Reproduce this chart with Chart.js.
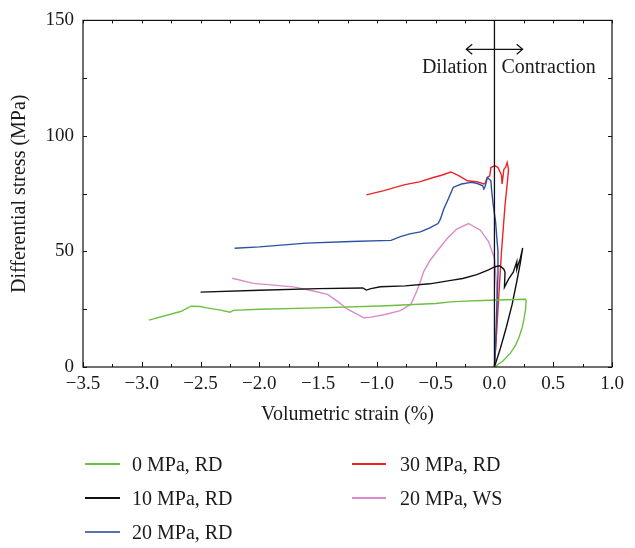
<!DOCTYPE html>
<html>
<head>
<meta charset="utf-8">
<script src="https://cdn.jsdelivr.net/npm/chart.js@4/dist/chart.umd.min.js"></script>
<style>
  html, body { margin: 0; padding: 0; background: #fff; }
  #wrap { position: relative; width: 635px; height: 548px; }
  #legend { position: absolute; left: 0; top: 0; width: 635px; height: 548px; pointer-events: none;
    font-family: "Liberation Serif", "DejaVu Serif", serif; font-size: 20px; color: #1a1a1a; }
  .item { position: absolute; display: flex; align-items: center; }
  .swatch { display: inline-block; width: 35px; height: 2px; margin-right: 12px; }
</style>
</head>
<body>
<div id="wrap">
  <canvas id="c" width="635" height="548"></canvas>
  <div id="legend"></div>
</div>
<script>
// series: [volumetric strain %, differential stress MPa]
const LABELS = ['0 MPa, RD', '10 MPa, RD', '20 MPa, RD', '30 MPa, RD', '20 MPa, WS'];
const COLORS = ['#6cc040', '#111111', '#2f4fa2', '#ee2424', '#d98bcb'];

const s0 = [[0, 0], [0.07, 2.5], [0.136, 6], [0.18, 9.5], [0.21, 13], [0.235, 17], [0.25, 20.5], [0.265, 25], [0.27, 28.5],
  [0.265, 29.3], [0.1, 29.1], [-0.1, 28.8], [-0.3, 28.4], [-0.37, 28.2], [-0.5, 27.5], [-0.97, 26.4], [-1.5, 25.6],
  [-2.0, 25.0], [-2.22, 24.5], [-2.25, 23.7], [-2.33, 24.6], [-2.45, 25.6], [-2.5, 26.2], [-2.58, 26.3], [-2.67, 24.0],
  [-2.94, 20.3]];

const s10 = [[0, 0], [0.05, 8], [0.1, 17], [0.15, 27], [0.19, 37], [0.22, 45], [0.24, 51.5], [0.22, 47], [0.2, 44],
  [0.19, 42.3], [0.19, 45.5], [0.16, 41], [0.12, 38], [0.085, 34.5], [0.09, 41], [0.08, 42.3], [0.06, 43.2], [0.04, 43.8],
  [0.0, 43.3], [-0.05, 42], [-0.15, 40], [-0.27, 38.3], [-0.37, 37.5], [-0.55, 36], [-0.76, 35.1], [-0.97, 34.7],
  [-1.05, 33.9], [-1.09, 33.3], [-1.12, 34.2], [-1.5, 33.9], [-2.0, 33.2], [-2.5, 32.4]];

const s20 = [[0, 0], [0.01, 10], [0.02, 25.8], [0.03, 40], [0.03, 50], [0.02, 56], [0.01, 62.8], [-0.01, 70], [-0.025, 77],
  [-0.03, 80.6], [-0.06, 82], [-0.08, 78], [-0.09, 77], [-0.1, 78.4], [-0.15, 79.5], [-0.2, 79.9], [-0.28, 79.2],
  [-0.32, 78.4], [-0.35, 77.8], [-0.39, 73], [-0.43, 68.5], [-0.46, 64], [-0.48, 62.1], [-0.55, 60.2], [-0.63, 58.5],
  [-0.72, 57.6], [-0.8, 56.4], [-0.88, 54.8], [-1.22, 54.3], [-1.6, 53.6], [-2.0, 52.0], [-2.21, 51.4]];

const s30 = [[0, 0], [0.03, 25], [0.06, 50], [0.09, 70], [0.11, 80], [0.12, 85.5], [0.108, 88.5], [0.095, 86.5],
  [0.08, 85.5], [0.072, 82], [0.065, 79.2], [0.06, 83], [0.05, 84.2], [0.03, 86.3], [0.01, 87], [-0.01, 86.8],
  [-0.03, 86.3], [-0.04, 82.7], [-0.06, 82], [-0.08, 79.5], [-0.09, 79.2], [-0.15, 80.2], [-0.23, 80.6], [-0.3, 82.7],
  [-0.37, 84.4], [-0.45, 83], [-0.52, 82], [-0.63, 80.2], [-0.77, 78.8], [-0.94, 76.3], [-1.09, 74.5]];

const sWS = [[0, 0], [0.015, 12], [0.025, 25], [0.02, 33], [0.01, 41], [0.0, 47.1], [-0.05, 54.3], [-0.12, 59.2],
  [-0.22, 62.1], [-0.32, 59.7], [-0.4, 55.7], [-0.49, 50], [-0.55, 46], [-0.6, 41.5], [-0.63, 37], [-0.66, 32.9],
  [-0.71, 27.2], [-0.8, 24.4], [-0.94, 22.6], [-1.05, 21.6], [-1.11, 21.3], [-1.17, 22.9], [-1.25, 25], [-1.34, 28.6],
  [-1.42, 31.4], [-1.54, 32.9], [-1.71, 34.7], [-2.05, 36.2], [-2.23, 38.4]];

const SERIES = [s0, s10, s20, s30, sWS];

const X_MIN = -3.5, X_MAX = 1.0, X_STEP = 0.5, X_MINOR = 0.25;
const Y_MIN = 0, Y_MAX = 150, Y_STEP = 50, Y_MINOR = 25;

const FONT = '"Liberation Serif", "DejaVu Serif", serif';

const fmtX = (v) => (v < -1e-9 ? '\u2212' : '') + Math.abs(v).toFixed(1);

// box, inward ticks, zero line and the dilation/contraction note
const framePlugin = {
  id: 'frame',
  afterDatasetsDraw(chart) {
    const { ctx, chartArea: a, scales: { x, y } } = chart;
    ctx.save();
    ctx.strokeStyle = '#111';
    ctx.lineWidth = 1.2;
    ctx.strokeRect(a.left, a.top, a.right - a.left, a.bottom - a.top);

    ctx.lineWidth = 1;
    for (let v = X_MIN; v <= X_MAX + 1e-9; v += X_MINOR) {
      const px = Math.round(x.getPixelForValue(v)) + 0.5;
      const major = Math.abs(v / X_STEP - Math.round(v / X_STEP)) < 1e-6;
      const len = major ? 5 : 3;
      ctx.beginPath();
      ctx.moveTo(px, a.bottom); ctx.lineTo(px, a.bottom - len);
      ctx.moveTo(px, a.top); ctx.lineTo(px, a.top + 3);
      ctx.stroke();
    }
    for (let v = Y_MIN; v <= Y_MAX + 1e-9; v += Y_MINOR) {
      const py = Math.round(y.getPixelForValue(v)) + 0.5;
      ctx.beginPath();
      ctx.moveTo(a.left, py); ctx.lineTo(a.left + 4, py);
      ctx.moveTo(a.right, py); ctx.lineTo(a.right - 4, py);
      ctx.stroke();
    }

    const x0 = x.getPixelForValue(0);
    ctx.lineWidth = 1.3;
    ctx.beginPath();
    ctx.moveTo(x0, a.top); ctx.lineTo(x0, a.bottom);
    ctx.stroke();

    // double arrow
    const ay = y.getPixelForValue(137.5);
    const l = x.getPixelForValue(-0.24), r = x.getPixelForValue(0.24);
    ctx.lineWidth = 1.2;
    ctx.beginPath();
    ctx.moveTo(l, ay); ctx.lineTo(r, ay);
    ctx.moveTo(l + 6, ay - 5); ctx.lineTo(l, ay); ctx.lineTo(l + 6, ay + 5);
    ctx.moveTo(r - 6, ay - 5); ctx.lineTo(r, ay); ctx.lineTo(r - 6, ay + 5);
    ctx.stroke();

    ctx.fillStyle = '#1a1a1a';
    ctx.font = '20px ' + FONT;
    ctx.textBaseline = 'middle';
    const ty = y.getPixelForValue(129.5);
    ctx.textAlign = 'right';
    ctx.fillText('Dilation', x0 - 7, ty);
    ctx.textAlign = 'left';
    ctx.fillText('Contraction', x0 + 7, ty);
    ctx.restore();
  },
};

const chart = new Chart(document.getElementById('c'), {
  type: 'scatter',
  data: {
    datasets: SERIES.map((s, i) => ({
      label: LABELS[i],
      data: s.map(([vx, vy]) => ({ x: vx, y: vy })),
      showLine: true,
      borderColor: COLORS[i],
      backgroundColor: COLORS[i],
      borderWidth: 1.4,
      pointRadius: 0,
      tension: 0,
    })),
  },
  options: {
    responsive: false,
    animation: false,
    layout: { padding: { left: 0, right: 23, top: 16, bottom: 119 } },
    plugins: { legend: { display: false }, tooltip: { enabled: false } },
    scales: {
      x: {
        type: 'linear', min: X_MIN, max: X_MAX,
        grid: { display: false, drawTicks: false },
        border: { display: false },
        ticks: { stepSize: X_STEP, padding: 6, color: '#1a1a1a', font: { family: FONT, size: 19 }, callback: fmtX, maxRotation: 0 },
        title: { display: true, text: 'Volumetric strain (%)', color: '#1a1a1a', font: { family: FONT, size: 20 }, padding: { top: 8, bottom: 2 } },
        afterFit: (s) => { s.height = 62; },
      },
      y: {
        min: Y_MIN, max: Y_MAX,
        grid: { display: false, drawTicks: false },
        border: { display: false },
        ticks: { stepSize: Y_STEP, padding: 9, color: '#1a1a1a', font: { family: FONT, size: 19 } },
        title: { display: true, text: 'Differential stress (MPa)', color: '#1a1a1a', font: { family: FONT, size: 20 }, padding: { top: 8, bottom: 2 } },
        afterFit: (s) => { s.width = 83; },
      },
    },
  },
  plugins: [framePlugin],
});

// legend in two columns under the plot
const LEGEND_POS = [[85, 464], [85, 498], [85, 532], [352, 464], [352, 498]];
const SWATCH = ['#6cc040', '#111111', '#5b6fb2', '#ee2424', '#d98bcb'];
const legendEl = document.getElementById('legend');
LABELS.forEach((lab, i) => {
  const it = document.createElement('div');
  it.className = 'item';
  it.style.left = LEGEND_POS[i][0] + 'px';
  it.style.top = (LEGEND_POS[i][1] - 13) + 'px';
  it.style.height = '26px';
  const sw = document.createElement('span');
  sw.className = 'swatch';
  sw.style.background = SWATCH[i];
  if (i >= 3) { sw.style.width = '34px'; sw.style.marginRight = '14px'; }
  const tx = document.createElement('span');
  tx.textContent = lab;
  it.appendChild(sw);
  it.appendChild(tx);
  legendEl.appendChild(it);
});
</script>
</body>
</html>
